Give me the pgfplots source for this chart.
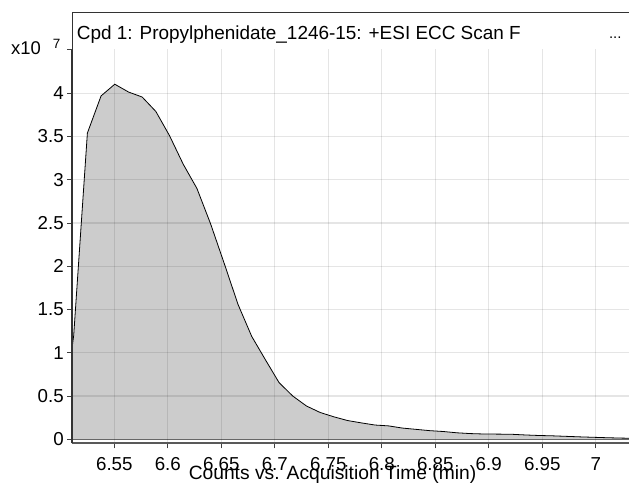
\documentclass[border=0pt]{standalone}
\usepackage{fontspec}
\setmainfont{Liberation Sans}
\usepackage{pgfplots}
\pgfplotsset{compat=1.18}
\pgfplotstableread{
x y
6.4992 0
6.5120 1.20
6.5248 3.54
6.5376 3.97
6.5504 4.105
6.5632 4.015
6.5760 3.957
6.5888 3.79
6.6016 3.51
6.6144 3.18
6.6272 2.90
6.6400 2.49
6.6528 2.03
6.6656 1.56
6.6784 1.19
6.6912 0.92
6.7040 0.655
6.7168 0.50
6.7296 0.385
6.7424 0.31
6.7552 0.26
6.7680 0.217
6.7808 0.19
6.7936 0.165
6.8064 0.155
6.8192 0.13
6.8320 0.115
6.8448 0.10
6.8576 0.09
6.8704 0.075
6.8832 0.066
6.8960 0.061
6.9088 0.060
6.9216 0.058
6.9344 0.050
6.9472 0.044
6.9600 0.040
6.9728 0.034
6.9856 0.028
6.9984 0.023
7.0112 0.018
7.0240 0.014
7.0368 0.011
}\datatable
\begin{document}
\begin{tikzpicture}[x=1bp,y=1bp]
\begin{axis}[
  at={(0,0)}, anchor=south west,
  scale only axis, width=556.7bp, height=394bp,
  xmin=6.5107, xmax=7.0311, ymin=-0.0462, ymax=4.5087,
  axis x line*=bottom, axis y line*=left,
  x axis line style={draw=black!65, line width=2bp, -},
  y axis line style={draw=black!80, line width=1.6bp, -},
  xtick={6.55,6.6,6.65,6.7,6.75,6.8,6.85,6.9,6.95,7},
  xticklabels={6.55,6.6,6.65,6.7,6.75,6.8,6.85,6.9,6.95,7},
  ytick={0,0.5,1,1.5,2,2.5,3,3.5,4},
  yticklabels={0,0.5,1,1.5,2,2.5,3,3.5,4},
  extra y ticks={4.5087}, extra y tick labels={}, extra y tick style={grid=none},
  tick align=outside, major tick length=5bp,
  tick style={black!75, line width=1bp},
  grid=major, grid style={black, opacity=0.1, line width=1.2bp},
  axis on top,
  tick label style={font=\fontsize{18.8}{20}\selectfont},
  xticklabel style={anchor=base, yshift=-22bp},
  /pgf/number format/assume math mode=true,
]
\addplot[fill=black!20, draw=none] table[x=x,y=y] {\datatable} \closedcycle;
\addplot[black, line width=0.8bp] table[x=x,y=y] {\datatable};
\draw[black!55, line width=1.5bp] (axis cs:6.5107,0) -- (axis cs:7.0311,0);
\end{axis}
\draw[black!80, line width=1.2bp] (0,0) -- (0,430.6) -- (556.7,430.6);
\node[anchor=base west, inner sep=0pt, font=\fontsize{19}{22}\selectfont] at (4.4,404) {Cpd 1: Propylphenidate\_1246-15: +ESI ECC Scan F};
\node[anchor=base east, inner sep=0pt, font=\fontsize{15}{18}\selectfont] at (549.4,404.8) {...};
\node[anchor=base west, inner sep=0pt, font=\fontsize{18.5}{20}\selectfont] at (-61.3,389) {x10};
\node[anchor=base west, inner sep=0pt, font=\fontsize{13.5}{16}\selectfont] at (-19.6,394.3) {7};
\node[anchor=base, inner sep=0pt, font=\fontsize{19.3}{22}\selectfont] at (260.2,-36) {Counts vs. Acquisition Time (min)};
\pgfresetboundingbox
\path[use as bounding box] (-72.3,-40.7) rectangle (556.7,443.3);
\end{tikzpicture}
\end{document}
